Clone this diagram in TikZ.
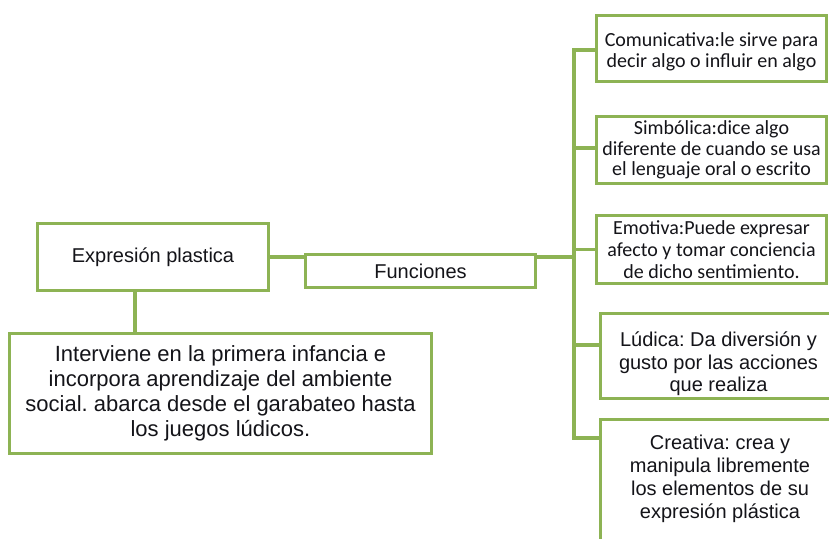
\documentclass[tikz,border=0pt]{standalone}
\usepackage{fontspec}
\setmainfont{Liberation Sans}
\newfontfamily\calib{Carlito}
\usetikzlibrary{calc}
\definecolor{gc}{RGB}{141,179,84}
\definecolor{tc}{RGB}{20,20,25}
\tikzset{
  box/.style={draw=gc, line width=3pt, fill=white, inner sep=0pt, align=center, text=tc},
  lbl/.style={inner sep=0pt, align=center, text=tc},
  conn/.style={draw=gc, line width=3.5pt},
  arialtxt/.style={font=\fontsize{20}{22.5}\selectfont},
  calitxt/.style={font=\calib\fontsize{20}{20.5}\selectfont},
}
\frenchspacing
\begin{document}
\begin{tikzpicture}[x=1pt,y=-1pt]
\useasboundingbox (0,0) rectangle (829,538);
\fill[white] (0,0) rectangle (829,538);
\clip (0,0) rectangle (829,538);

% boxes
\node[box, arialtxt, minimum width=231, minimum height=67] (expr) at (153,257) {Expresión plastica};
\node[box, arialtxt, minimum width=230, minimum height=33] (func) at (420.5,271) {Funciones};
\node[box, font=\fontsize{22}{25}\selectfont, minimum width=422, minimum height=120] (inter) at (220.5,393.5)
  {Interviene en la primera infancia e\\incorpora aprendizaje del ambiente\\social. abarca desde el garabateo hasta\\los juegos lúdicos.};
\node[box, minimum width=230, minimum height=66] (com) at (711.5,48.5) {};
\node[lbl, calitxt] (comt) at (711.5,52) {Comunicativa:le sirve para\\decir algo o influir en algo};
\node[box, calitxt, minimum width=230, minimum height=67] (sim) at (711.5,150)
  {Simbólica:dice algo\\diferente de cuando se usa\\el lenguaje oral o escrito};
\node[box, font=\calib\fontsize{20}{21.7}\selectfont, minimum width=230, minimum height=68] (emo) at (711.5,249.5)
  {Emotiva:Puede expresar\\afecto y tomar conciencia\\de dicho sentimiento.};
\node[box, minimum width=237, minimum height=85] (lud) at (718.5,356) {};
\node[lbl, arialtxt] (ludt) at (718.5,364) {Lúdica: Da diversión y\\gusto por las acciones\\que realiza};
\node[box, minimum width=240, minimum height=140] (crea) at (720,489) {};
\node[lbl, font=\fontsize{20}{23}\selectfont] (creat) at (720,479)
  {Creativa: crea y\\manipula libremente\\los elementos de su\\expresión plástica};

% connection points
\coordinate (exb) at ($(expr.south)+(-18,0)$);
\coordinate (fr) at (func.east |- expr.east);
\coordinate (tr) at (574,257);
\coordinate (ludb) at (lud.west |- 0,345);
\coordinate (creb) at (crea.west |- 0,438);

% connectors
\draw[conn] (expr.east) -- (expr.east -| func.west);
\draw[conn] (exb) -- (exb |- inter.north);
\draw[conn] (fr) -- (tr);
\draw[conn, line cap=rect] (tr |- 0,50) -- (tr |- creb);
\draw[conn] (tr |- 0,50) -- (com.west |- 0,50);
\draw[conn] (tr |- 0,148) -- (sim.west |- 0,148);
\draw[conn] (tr |- emo.west) -- (emo.west);
\draw[conn] (tr |- ludb) -- (ludb);
\draw[conn] (tr |- creb) -- (creb);
\end{tikzpicture}
\end{document}
